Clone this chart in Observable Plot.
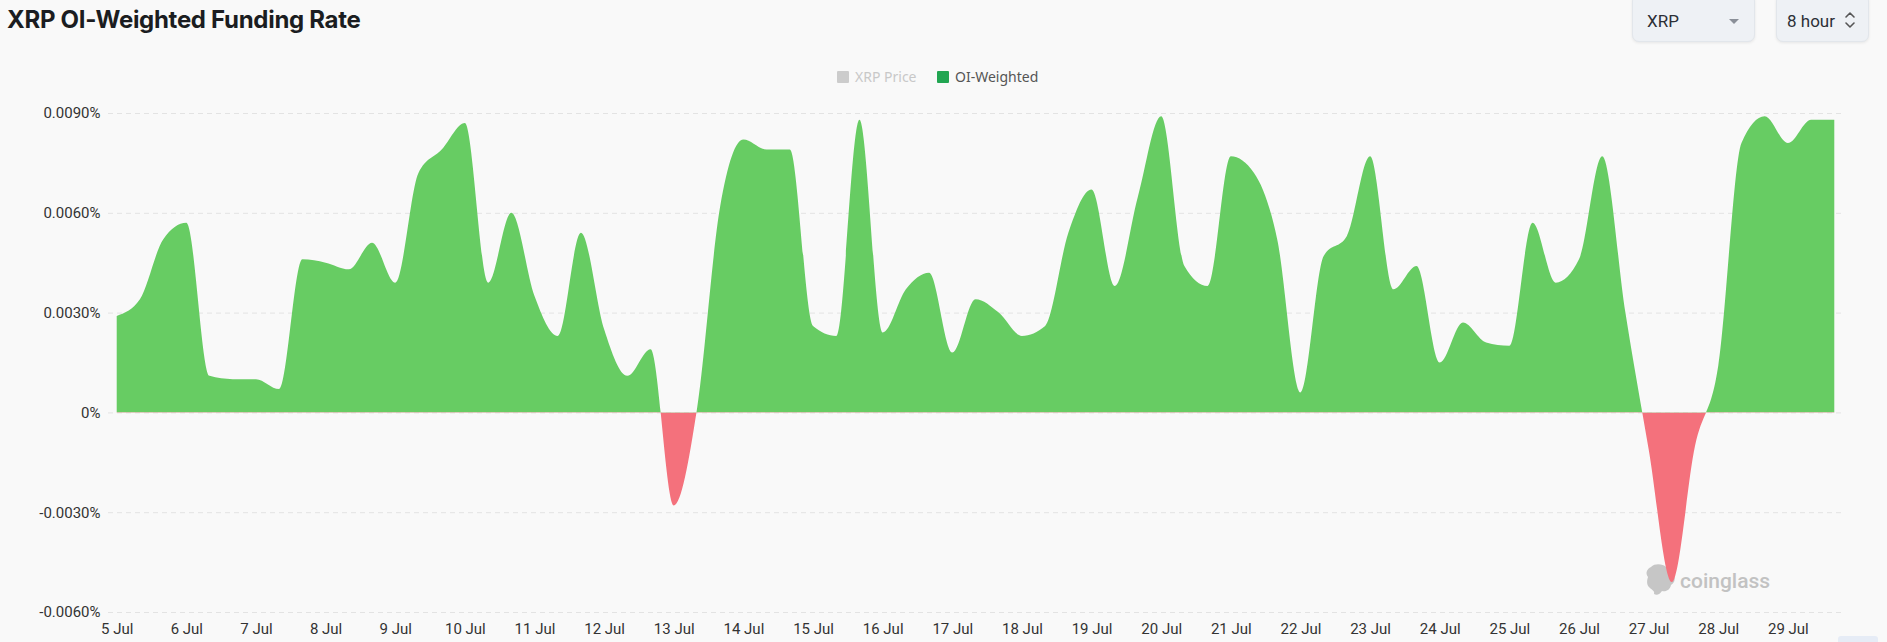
<!DOCTYPE html>
<html>
<head>
<meta charset="utf-8">
<script src="https://cdn.jsdelivr.net/npm/d3@7"></script>
<script src="https://cdn.jsdelivr.net/npm/@observablehq/plot@0.6"></script>
<style>
  html, body { margin: 0; padding: 0; background: #f9f9f9; }
  body { width: 1887px; height: 642px; overflow: hidden; position: relative; font-family: Roboto, "Noto Sans", sans-serif; }
  #header { position: relative; height: 90px; z-index: 2; }
  #title { position: absolute; left: 7px; top: 8px; font-family: Inter, Roboto, sans-serif; font-weight: 700; font-size: 24px; line-height: 24px; color: #1b1d21; letter-spacing: -0.3px; white-space: nowrap; }
  .ctl { position: absolute; top: -6px; height: 48px; box-sizing: border-box; background: #eef1f5; border: 1px solid #e2e6eb; border-radius: 7px; box-shadow: 0 1px 3px rgba(0,0,0,0.08); font-family: Roboto, sans-serif; font-size: 17px; color: #2c2f36; }
  .ctl span.lbl { position: absolute; top: 15px; line-height: 22px; }
  .caret { position: absolute; left: 96px; top: 24px; width: 0; height: 0; border-left: 5px solid transparent; border-right: 5px solid transparent; border-top: 5px solid #8a8f98; }
  .legend-item { position: absolute; top: 68px; line-height: 18px; font-family: "Noto Sans", sans-serif; font-size: 14px; white-space: nowrap; }
  .sw { position: absolute; top: 71px; width: 12px; height: 12px; border-radius: 1px; }
  #chart { position: relative; z-index: 1; }
  #wm { position: absolute; left: 1645px; top: 563px; z-index: 0; }
  #wm-text { position: absolute; left: 35px; top: 7px; font-family: Roboto, sans-serif; font-weight: 500; font-size: 21px; line-height: 22px; color: #c2c2c2; white-space: nowrap; }
  #scrollbit { position: absolute; left: 1838px; top: 636px; width: 40px; height: 6px; background: #e6ecf6; border-radius: 3px 3px 0 0; }
</style>
</head>
<body>
<div id="header">
  <div id="title">XRP OI-Weighted Funding Rate</div>
  <div class="ctl" style="left:1632px;width:123px;"><span class="lbl" style="left:14px;">XRP</span><span class="caret"></span></div>
  <div class="ctl" style="left:1776px;width:93px;"><span class="lbl" style="left:10px;">8 hour</span>
    <svg style="position:absolute;left:67px;top:14px" width="12" height="22" viewBox="0 0 12 22"><path d="M2 8 L6 4 L10 8" fill="none" stroke="#555" stroke-width="1.6" stroke-linecap="round" stroke-linejoin="round"/><path d="M2 14 L6 18 L10 14" fill="none" stroke="#555" stroke-width="1.6" stroke-linecap="round" stroke-linejoin="round"/></svg>
  </div>
  <div class="sw" style="left:837px;background:#cccccc;"></div>
  <div class="legend-item" style="left:855px;color:#c8c8c8;">XRP Price</div>
  <div class="sw" style="left:937px;background:#22a652;"></div>
  <div class="legend-item" style="left:955px;color:#555;">OI-Weighted</div>
</div>
<div id="wm">
  <svg width="32" height="34" viewBox="0 0 32 34"><path d="M6 4 C10 0 18 1 21 4 C25 3 29 6 28 11 C31 14 30 20 26 22 C25 27 21 29 17 28 C15 31 12 33 9 31 C10 28 7 27 5 25 C1 22 2 17 3 14 C0 10 2 6 6 4 Z" fill="#c6c6c6"/></svg>
  <div id="wm-text">coinglass</div>
</div>
<div id="chart"></div>
<div id="scrollbit"></div>
<script>
// 8-hour funding periods starting 5 Jul 00:00 (UTC), values in percent
const startDate = Date.UTC(2024, 6, 5);
const periodHours = 8;
const fundingRate = [
  0.0029, 0.0034, 0.0052, 0.0057, 0.0011, 0.0010, 0.0010, 0.0007, 0.0046, 0.0045,
  0.0043, 0.0051, 0.0039, 0.0072, 0.0079, 0.0087, 0.0039, 0.0060, 0.0035, 0.0023,
  0.0054, 0.0025, 0.0011, 0.0019, -0.0028, 0.0001, 0.0062, 0.0082, 0.0079, 0.0079,
  0.0026, 0.0023, 0.0088, 0.0024, 0.0037, 0.0042, 0.0018, 0.0034, 0.0030, 0.0023,
  0.0026, 0.0054, 0.0067, 0.0038, 0.0065, 0.0089, 0.0044, 0.0038, 0.0077, 0.0072,
  0.0052, 0.0006, 0.0047, 0.0053, 0.0077, 0.0037, 0.0044, 0.0015, 0.0027, 0.0021,
  0.0020, 0.0057, 0.0039, 0.0046, 0.0077, 0.0030, -0.0011, -0.0051, -0.0010, 0.0014,
  0.0081, 0.0089, 0.0081, 0.0088, 0.0088
];
const dayTicks = [5,6,7,8,9,10,11,12,13,14,15,16,17,18,19,20,21,22,23,24,25,26,27,28,29];
const monthLabel = "Jul";
const yTicks = [-0.006, -0.003, 0, 0.003, 0.006, 0.009];
const yTickLabels = ["-0.0060%", "-0.0030%", "0%", "0.0030%", "0.0060%", "0.0090%"];
const positiveColor = "#67cc63";
const negativeColor = "#f4717c";

const H = 3600 * 1000;
const rows = fundingRate.map((v, i) => ({t: new Date(startDate + i * periodHours * H), v}));
const xTickDates = dayTicks.map(d => new Date(Date.UTC(2024, 6, d)));
const endDate = rows[rows.length - 1].t.getTime();
const W = 1887, HT = 552;

const chart = Plot.plot({
  width: W, height: HT,
  marginTop: 23, marginBottom: 30, marginLeft: 108, marginRight: 44,
  style: {background: "transparent", fontFamily: "Roboto, sans-serif", fontSize: "15px", color: "#333", overflow: "visible"},
  x: {type: "utc", domain: [new Date(startDate - 3 * H), new Date(endDate + 3 * H)], label: null},
  y: {domain: [-0.006, 0.009], label: null},
  marks: [
    Plot.gridY(yTicks, {stroke: "#e3e3e3", strokeOpacity: 1, strokeDasharray: "5,4"}),
    Plot.areaY(rows, {x: "t", y1: 0, y2: "v", curve: "monotone-x", fill: positiveColor}),
    Plot.areaY(rows, {x: "t", y1: 0, y2: "v", curve: "monotone-x", fill: negativeColor}),
    Plot.axisY(yTicks, {tickSize: 0, tickPadding: 8, tickFormat: d => yTickLabels[yTicks.indexOf(d)], fontSize: 15, color: "#333", label: null}),
    Plot.axisX(xTickDates, {tickSize: 0, tickPadding: 11, tickFormat: d => `${d.getUTCDate()} ${monthLabel}`, fontSize: 15, color: "#333", label: null})
  ]
});

// split the filled area at zero: green above, red below
const svg = d3.select(chart);
const y0 = chart.scale("y").apply(0);
const defs = svg.insert("defs", ":first-child");
defs.append("clipPath").attr("id", "clip-pos").append("rect").attr("x", 0).attr("y", 0).attr("width", W).attr("height", y0);
defs.append("clipPath").attr("id", "clip-neg").append("rect").attr("x", 0).attr("y", y0).attr("width", W).attr("height", HT - y0);
const areas = svg.selectAll('g[aria-label="area"]').nodes();
d3.select(areas[0]).attr("clip-path", "url(#clip-pos)");
d3.select(areas[1]).attr("clip-path", "url(#clip-neg)");

document.getElementById("chart").appendChild(chart);
</script>
</body>
</html>
